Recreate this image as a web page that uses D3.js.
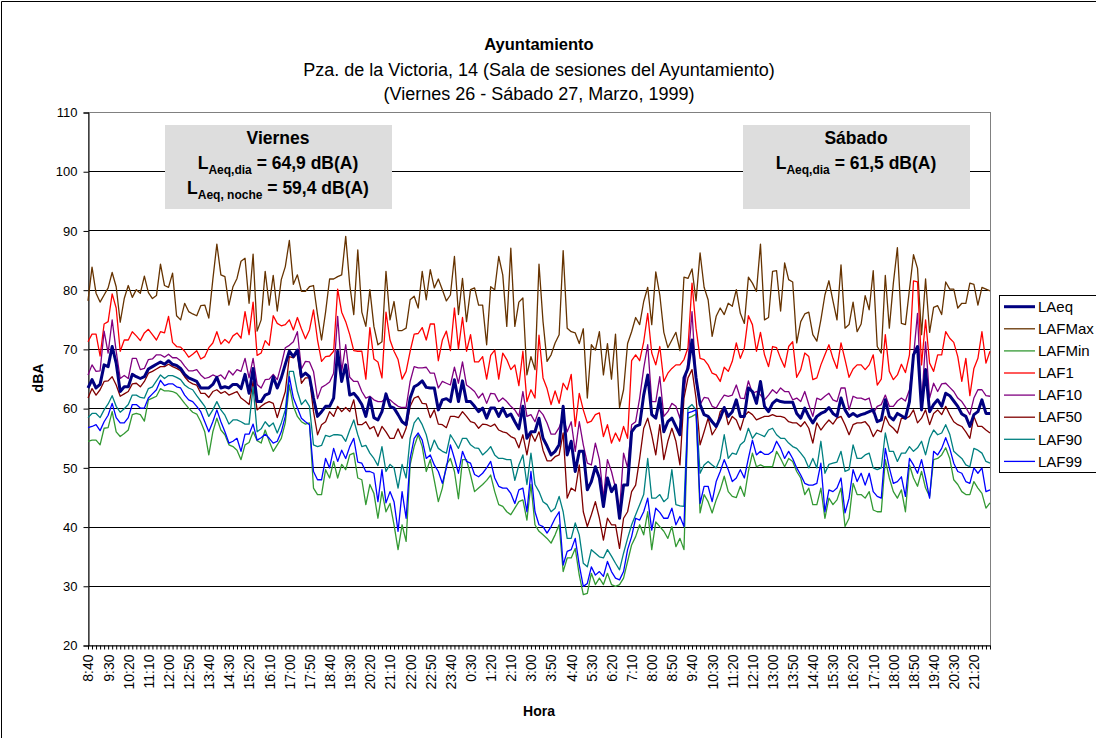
<!DOCTYPE html>
<html>
<head>
<meta charset="utf-8">
<script src="https://cdn.jsdelivr.net/npm/d3@7"></script>
<style>
  body { margin: 0; background: #fff; }
  text { font-family: Arial, "Liberation Sans", sans-serif; fill: #000; }
</style>
</head>
<body>
<div id="chart"></div>
<script>
// 10-minute samples, Friday 8:40 -> Saturday 22:00
var startHour = 8, startMin = 40, stepMin = 10;

var tickLabels = ["8:40","9:30","10:20","11:10","12:00","12:50","13:40","14:30","15:20","16:10",
  "17:00","17:50","18:40","19:30","20:20","21:10","22:00","22:50","23:40","0:30","1:20","2:10",
  "3:00","3:50","4:40","5:30","6:20","7:10","8:00","8:50","9:40","10:30","11:20","12:10","13:00",
  "13:50","14:40","15:30","16:20","17:10","18:00","18:50","19:40","20:30","21:20"];

var LAeq = [63.4,64.8,63.4,64,67.3,67,70.4,67.6,62.8,63.6,63.6,65.7,65.3,65,65.3,66.6,67,67.4,67.8,67.4,68,67.4,67.2,66.7,65.7,65.1,64.8,64.5,63.4,63.4,63.4,64,65.2,63.4,63.6,63.4,64,64,63.3,65.7,62.5,
  66.7,61.1,61.1,62.2,62.5,65.3,63.4,65.1,67.4,69.6,68.7,69.8,65.3,65.9,65.3,61.7,58.6,59.4,60.3,60.3,61.7,69.6,64.5,67.3,62.2,62.5,61.7,60.6,58.6,61.7,58.4,58,59.4,62.4,60.3,60,58.9,57.7,57.2,
  61.7,63.6,64,64.6,63.5,63.4,63.4,59.7,61.4,61.6,61.1,64.8,61.1,64.6,61.1,61.1,60.3,59.4,60,58.3,60,60,58.6,60,58.6,59,57.7,56.5,60.3,54.9,56,56,58.3,54.9,53.6,52.1,52.7,53.8,60.3,52.1,
  54.4,49.3,52.7,52.7,46.2,47.6,50.1,48.2,43.4,48.2,45.9,47,41.4,47,47,56,56.9,57.2,62.2,65.6,58.9,58.3,61.7,56,57.7,58.3,56.9,55.5,65.1,66.7,71.5,65.1,60.6,58.9,58.6,57.7,56.9,58.3,60.1,58.6,
  59.4,61.4,58.6,58.6,63.4,62.8,60.8,64.5,60.3,59.4,60.8,61.4,61.1,61,61,61,59.1,58.3,60,58.6,57.5,58.6,59.1,59.4,60.1,59.1,58.6,61.7,59.7,58.6,59.1,58.6,58.9,59.1,59.4,59.7,57.7,58,61.4,58.6,
  58,59.1,58.7,58.3,61.1,69,70.4,59.7,66.5,59.4,60.6,61.4,60.3,62.5,62.1,61.2,60.3,59,58.6,56.9,58.9,59.4,61.4,59.1,59.1];

var LAFMax = [78.1,83.8,79.4,77.9,79.1,80.3,82.9,80.5,74.5,78.5,80.7,78.7,80,79.4,82.3,79.5,78.5,79,84.3,80.7,80.4,82.8,75.6,74.9,77.7,76.3,75.9,75.6,77.3,77.4,75.2,81.7,87.7,82.5,82.2,77.4,80.5,81.9,84.8,85.3,77.7,
  86,73,74.9,83.1,77.4,82.4,76.4,81.7,83.9,88.3,80.9,82.5,79.7,79.7,80.5,80.7,75.8,71.5,76.2,81.8,81.8,82.2,82.5,89,80.8,75.8,86.7,76.2,73.8,80,73.8,70.7,71.2,83.1,74.9,78,73.1,73.1,73.5,
  78.3,78.9,76.9,83.1,78.3,83.4,80.3,81.8,80,78.1,79.1,85.6,75.8,81.9,74.6,80,80.3,77.4,77.4,70.7,80.5,80,85.6,82.5,73.8,87,73.8,77.9,78.6,65.6,68.7,66.5,84.3,74.6,67.9,69,71,72.4,86.6,73.5,
  72.9,72.7,70.9,73.4,61.7,70.7,69.8,72.9,65.6,70.9,64.9,72.5,60.1,63.1,70.9,72.9,75.3,74.1,78,80.4,74.1,83,79.1,72.8,70.2,71.5,72.8,69.7,82.1,81.9,83.5,78.1,86.2,80.4,78.3,72.1,75.5,76.9,75.8,77.7,
  77.2,80,76,74.3,82.1,81.1,79.7,87.7,74.9,75.3,83.1,83.2,76.4,84.5,81.7,81.3,71,74.6,75.9,76.2,72.4,71.3,74.9,79.1,81.5,78.1,74.9,84.2,73.5,74.1,77.9,72.9,74.2,79,76.6,83.2,70.4,69.3,82.4,73.5,
  81.1,87.1,74.3,74.1,80,85.9,83.6,72.4,81.8,72.8,77,77.3,75.8,81.3,80.1,80.1,76.9,77.7,77.7,81.1,80.9,77.4,80.4,80.1,79.8];

var LAFMin = [54.4,54.6,54.6,53.8,56.6,56.7,59.4,56,55.2,55.7,56.3,58.9,59.1,58.9,57.8,61.4,61.7,62,63.3,62.9,62.9,62.8,62.5,61.7,60.8,60,59.3,59,57.7,56,52.1,56,58.3,56.3,55.5,53.8,53.5,52.9,51.3,53.8,54.2,
  56,54.5,54.1,56.3,54.4,52.7,53.8,54.9,57.5,63.9,60.3,58.6,57.7,57.3,57.5,46.5,45.4,45.4,49.6,48.2,51,48.2,50.5,49.6,52.1,52.4,48.2,47.9,43.7,47.1,45.6,41.4,45.9,42.5,43.9,40.3,36.1,40.3,37.5,
  50.4,53.5,55.5,53.5,49.3,51.3,47.8,44.2,46.5,50.4,51.5,49.3,44.7,51.3,51.3,48.7,45.9,46.5,47.1,47.8,48.7,45.9,43.7,43.4,42.5,42,43.1,44.2,44.5,41.1,47.1,40.3,39.2,38.6,38,37.2,38.6,40.3,32.4,34.7,
  34.7,36.3,31.8,28.5,28.7,32.1,30.2,31.3,30.2,32.1,30.2,29.9,30.2,31.3,34.1,36.9,38.3,40.3,38.6,42.5,36.1,40.8,40,39.2,38,40,36.6,38,36.1,58.3,58.6,59,42.3,45.4,44.2,42.3,44.5,46.2,48.5,45.9,
  45.1,44.9,46.8,45.1,49.3,52.4,50.1,50.4,50.1,50.1,50.1,52.7,51.5,50.1,51.5,51,49.3,48.2,45.4,46.5,43.7,43.7,46.5,41.4,44.8,43.7,44.5,46.5,40,41.4,47.3,45.4,45.4,44.8,45.9,42.8,42.5,42.5,51.3,48.2,
  45.9,44.8,46.2,42.5,50.4,48.2,46.8,49.3,46.5,45.1,51.3,51.5,52.1,53.3,51.5,47.9,47.1,45.9,45.4,45.4,47.6,46.5,45.6,43.1,44];

var LAF1 = [71.2,72.5,72.5,68.8,74.2,74.6,79.3,76.9,69.6,71.5,71.5,72.9,72.2,71.4,72.7,73.3,72.4,71.5,72.9,72.7,75.5,71.1,70.4,70.3,69.6,68.6,69.1,69.7,68.3,68.7,70.2,71,72.9,70.8,71.6,71,72.2,72.7,71.8,76.3,72.4,
  77.9,68.9,69.3,71.4,70.6,75.6,74.3,73.9,74.1,74.9,73.2,75.3,73.4,71.7,73.2,76.6,71.5,67.9,68.7,68.8,69.6,80.1,76.2,74.6,72.4,69.7,69.6,69.6,64.9,73.6,68.3,67.8,65.1,76.2,71.5,69.6,68.2,64.9,66.2,
  69.6,72.5,72.6,73.6,71.5,74.2,74.2,68,71.5,73,69.7,76.9,70,75.3,69.6,72.4,67.8,67.8,68.7,64.9,68.9,69.8,64.9,69.3,68.2,66.5,67.3,63.8,69.6,61.1,63.1,61.7,72.3,65.1,63.3,60.6,62.9,60.8,64.2,63.1,
  65.7,56.9,62.5,59.7,57.5,57.8,58.9,59.2,55.2,57.2,54.1,55.8,54.4,56.9,54.9,68,69,68,71.2,76,69.3,67.3,70.4,64.5,65.9,66.7,67.3,67.3,68.2,70.2,81.1,73.5,68.4,68.2,67.3,65.9,65.6,64.5,66.9,66.2,
  67.9,71,68.4,70.2,75.6,74.1,69.6,72.8,69,67,70.4,70.2,68.4,66.9,70.4,71.2,65.2,66.5,69.3,68.7,64.8,65.1,67.3,69,70.7,68.4,66.7,71,68.2,65.2,66.6,67.3,67.3,66.5,67.3,69,63.9,64.9,72.4,66.2,
  64.8,65.6,67.4,66,69,81.5,81.3,67.3,74.9,67.6,66.2,69,69,72.9,71.8,71.1,68.7,64.5,68.4,62.1,66.7,68.4,72.9,67.6,69.6];

var LAF10 = [65.6,67.3,66.2,66.3,73,69.3,74.9,69.6,65,65.5,65,68.4,68.4,66.5,66.7,68.2,68.3,69,69,68.6,69.1,68.5,68.5,68,67.1,66.3,66.3,66.5,65.6,65,65.2,65.6,65.3,65.6,64.9,66.3,65.6,66.5,66.2,68.4,65.1,
  68.4,64,63.4,64.8,64.9,65.7,64.8,67.3,70.2,70.6,71.2,72.9,66.6,67.9,67.8,66.2,61.6,63.5,63.9,64.4,65.9,75.5,66.2,70.7,65.2,64.5,64.5,62.8,61.7,62,61.4,61.1,61.1,61.7,61.4,60.8,60.3,60.1,60.1,
  64.5,67,66.8,66.8,66.9,65.9,65.9,63.4,64.5,64.2,63.9,66.9,64.2,67.8,63.9,63.4,62.8,61.7,62.5,60.8,62.5,62.4,61.1,61.7,61.1,60.3,59.7,58.6,62.8,58.6,58.9,57.7,59.7,58.9,57.5,55.6,55.6,56.7,58.6,56,
  57.7,52.7,57.7,53.8,50.7,50.4,54.1,51.3,44.8,51.3,49.3,46.5,42.5,52.4,49.9,57.2,57.7,61.7,66.7,70.7,61.1,61.1,65.3,58.6,59.4,60.8,60.3,58.3,62.8,67.9,76.3,64.5,60.6,61.8,61.7,60.3,60,61.2,62.2,62,
  62.2,63.9,61.7,61.6,64.6,62.5,62.8,62.2,61.4,62.2,63.1,62.5,63.4,62.8,62.8,61.4,61.7,61.1,62.8,60.6,58.6,61.7,61.4,62,62.5,61.4,61.1,63.4,63.4,59.7,62,61.7,61.7,61.4,61.7,59.1,60.3,60.6,62.2,60.3,
  60.3,61.2,61.7,61.2,63.1,68.7,76,60.6,71.2,61.7,64.2,62.8,64.1,64.2,63.5,62.8,61.7,61.1,60.1,58.9,61.7,63.1,63.1,62.1,62];

var LAF50 = [61.7,63.3,62.2,63.1,64.5,64.6,65.3,63.9,62,62.4,62.8,64.1,64.2,63.6,64.5,65.9,66.2,66.6,67,67,67.4,67,66.7,66.3,65.3,64.5,64.1,63.9,62.5,62.5,61.8,62.8,63.1,62.5,62.8,62.2,62.5,62.8,61.7,61.2,60.6,
  64.5,59.7,60.3,60.8,61.1,60.8,58.4,60.6,62.8,68.7,68.5,69.3,64.2,65.1,65.1,59.4,55.5,57.2,57.7,59.4,58.6,60.3,59.4,60.1,59.4,61.4,57.2,57.2,57.7,56.5,56.9,55.2,56.9,56,54.9,54.9,56.5,54.9,56.6,
  60.3,61.7,62,60.8,60.7,58.4,59.7,57.3,57.2,56.7,58.6,58.6,58.4,59.4,58.6,57.7,57.5,56.6,57.3,57.2,56.9,57.3,56.3,56,55.8,55.2,54.9,53.3,55.5,52.1,55.8,54.4,56,52.9,51.1,51.1,51.8,52.1,55.8,44.8,
  46.5,46,50.4,42.5,40,42,44.2,41.4,37.7,41.4,40.3,40.3,36.3,41.4,42.5,45.9,47,51.5,56.6,58.3,55.5,52.1,57.2,51.3,54.4,56.6,54.4,50.4,61.7,65.1,66.5,61.7,53.8,56,58.3,55.5,56.6,59.4,60.1,57.2,
  58.6,58,56.3,58.6,59.4,58.9,58,58.3,58.6,58.6,58.9,58.6,58.6,58.4,57.7,57.5,57.5,56.9,57.7,56.6,54.1,57.5,56.3,57.2,58,57.3,58.3,58.6,57.2,55.5,57.2,57.5,57.5,57.7,56.9,55.2,56.3,56,58.6,57.2,
  56.6,55.8,58.3,58.2,58.6,59.7,57.5,58.3,59.7,57.2,59.1,59.7,58.9,60.3,58.9,57.7,57.2,56.9,56,54.9,58.6,56.9,56.9,56.3,55.8];

var LAF90 = [58.4,59.1,59.1,58.4,59.7,60.7,62.1,60.3,59.3,59.9,60.6,62.2,62.2,61.8,61.7,63.3,63.6,64.6,65.6,65,65.5,65.5,65.2,64.8,63.9,63.4,63.1,62.1,61.2,60.3,58.6,59.7,61.1,59.7,58.8,57.3,58,58,57.7,57.3,57.3,
  63.6,56,56.5,57.7,56.9,57.5,55.8,57.5,59.7,66.2,66.2,62.8,60.6,61.4,60.3,53.8,53.5,53.7,55.4,55.2,55.5,55.5,55.4,54.4,56.3,58,55.5,53.5,53.7,52.4,51.5,50.3,53.5,49.3,50.5,49.9,46.5,50.5,48.2,
  54.9,57.5,58.4,57.2,55.5,52.7,54.6,53.2,52.7,52.4,55.5,54.4,53.2,54.9,54.9,53.8,53.3,53.2,52.1,52.7,53.5,52.1,51.5,51.5,51.3,51.3,47.8,50.4,52.1,47.1,52.4,47.1,45.9,44.2,43.7,42.5,43.1,45.1,42.5,38,
  38,40.6,38.6,33.8,33.2,36.1,35.5,34.9,34.7,36.1,35,33.8,32.7,35.5,38,40.3,42,43.7,45.4,51.5,44.8,44.8,45.4,44.2,44.8,49.6,43.7,43.5,43.4,60,60.6,59.7,49,50.4,51,50.4,49.9,51.5,55.5,51.5,
  52.4,52.2,53.8,54.4,56.6,54.9,55.8,55.5,55.2,56.3,56.6,55.5,54.9,54.9,54.1,53.5,53.2,52.4,51.5,49.9,51.5,49.9,54.4,49,50.5,50.7,50.9,52.7,49.3,49.6,53.8,51.5,51.5,52.1,52.4,49.9,49.6,49.9,55.8,52.7,
  52.7,51,52.4,52.4,53.5,52.7,53.3,54.4,52.1,54.9,56.3,55.5,55.8,57.2,55.6,52.7,52.1,51.5,50.4,50.1,53.2,52.9,52.4,51,50.7];

var LAF99 = [56.7,56.9,57.2,56.2,57.7,58.8,60.8,58.4,57.5,57.5,58.4,60.6,60.6,60,60,61.7,62.4,63.1,64.7,63.8,64.1,64.1,63.6,63.4,62.2,61.4,61.1,60.3,59.4,57.7,56,57.7,59.7,57.7,56,54.1,54.4,54.9,52.7,55.6,55.6,
  57.3,54.6,55,55.6,54.9,54.1,54.4,56,58.6,65.3,61.7,60,58.3,57.7,57.2,49.3,47.9,47.9,51.5,49.9,53.2,51,52.9,51.5,53.5,54.9,50.9,50.7,49.3,49.3,49,44.2,49.6,44,45.9,44.2,39.2,45.9,41.4,
  51.5,54.9,55.8,54.6,51.5,52.1,50.4,49.3,47.3,49.9,53.8,51.5,49,52.7,51,50.7,48.8,48.4,49,49.9,51,48.2,46.8,46.5,46.5,45.6,43.9,46.2,46.5,42.5,49.3,42.5,40.3,40,38.9,40,41.4,42.5,33.5,35.8,
  36.1,38,33.5,29.9,30.4,33.2,31.8,32.4,31.6,34.1,32.4,31.3,31,32.4,36.1,38.3,41.4,41.1,42.5,44.8,39.4,43.1,42.4,41.4,41.4,43.1,40.3,41.7,40,59.2,59.4,59.7,43.9,46.8,46.8,44.2,47.6,49.3,51.3,49.6,
  47.6,48.2,49.6,48.2,51.5,54.6,52.1,52.7,52.2,52.2,52.7,54.4,53.2,51.5,52.7,51.5,49.9,48.7,47.3,47,47,47.3,50.7,42.5,46.2,45.9,46.5,48.2,42.3,44.8,49.6,47.6,49,47,49,45.9,45.1,44.8,53.2,49.9,
  47.3,47.6,48.4,45.1,51.5,50.4,49,51.3,48.2,44.8,52.7,52.1,53.2,55,53.2,50.7,49.3,49,47.6,47.3,49.9,49,49.9,45.9,46.2];

var seriesNames = ["LAeq","LAFMax","LAFMin","LAF1","LAF10","LAF50","LAF90","LAF99"];
var seriesValues = [LAeq, LAFMax, LAFMin, LAF1, LAF10, LAF50, LAF90, LAF99];
var seriesColors = ["#000080","#663300","#339933","#ff0000","#800080","#800000","#008080","#0000ff"];
var yTicks = [20,30,40,50,60,70,80,90,100,110];

// category axis: one entry per 10-minute sample
var categories = LAeq.map(function (d, i) {
  var m = startHour * 60 + startMin + i * stepMin;
  return Math.floor(m / 60) % 24 + ":" + d3.format("02")(m % 60);
});

var W = 1096, H = 738;
var plotL = 88, plotR = 990, plotT = 112, plotB = 645;

var svg = d3.select("#chart").append("svg")
  .attr("width", W).attr("height", H);

// chart area border (cut at right like the original)
svg.append("path")
  .attr("d", "M1.5," + H + "V1.5H" + W)
  .attr("fill", "none").attr("stroke", "#000");

var x = d3.scalePoint().domain(d3.range(categories.length)).range([plotL, plotR]).padding(0);
var y = d3.scaleLinear().domain([20, 110]).range([plotB, plotT]);

// gridlines
svg.append("g").selectAll("line")
  .data(yTicks.filter(function (t) { return t > 20 && t < 110; }))
  .enter().append("line")
  .attr("x1", plotL).attr("x2", plotR)
  .attr("y1", function (d) { return Math.round(y(d)) + 0.5; })
  .attr("y2", function (d) { return Math.round(y(d)) + 0.5; })
  .attr("stroke", "#000").attr("stroke-width", 1);

// plot border
svg.append("rect")
  .attr("x", plotL + 0.5).attr("y", plotT + 0.5)
  .attr("width", plotR - plotL).attr("height", plotB - plotT)
  .attr("fill", "none").attr("stroke", "#808080");

// Y axis
var yAxis = svg.append("g")
  .attr("transform", "translate(" + (plotL + 0.5) + ",0.5)")
  .call(d3.axisLeft(y).tickValues(yTicks).tickSize(5).tickPadding(6));
yAxis.select(".domain").attr("stroke", "#000");
yAxis.selectAll("text").style("font-size", "13px").attr("font-family", null);

// X axis: tick per sample, label every 5th
var xAxis = svg.append("g")
  .attr("transform", "translate(0," + (plotB + 0.5) + ")")
  .call(d3.axisBottom(x).tickSize(4).tickSizeOuter(0)
    .tickFormat(function (i) { return i % 5 === 0 ? tickLabels[i / 5] : ""; }));
xAxis.select(".domain").attr("stroke", "#000");
xAxis.selectAll("text")
  .style("font-size", "14px").attr("font-family", null)
  .attr("transform", "rotate(-90)")
  .attr("x", -9).attr("y", 0).attr("dy", "0.35em")
  .style("text-anchor", "end");

// annotation boxes
var boxes = [
  { x: 165, title: "Viernes", lines: [["Aeq,dia", " = 64,9 dB(A)"], ["Aeq, noche", " = 59,4 dB(A)"]] },
  { x: 743, title: "Sábado", lines: [["Aeq,dia", " = 61,5 dB(A)"]] }
];
boxes.forEach(function (b) {
  var cx = b.x + 113;
  svg.append("rect").attr("x", b.x).attr("y", 125).attr("width", 227).attr("height", 84)
    .attr("fill", "#dddddd");
  svg.append("text").attr("x", cx).attr("y", 144).attr("text-anchor", "middle")
    .style("font-size", "17.5px").style("font-weight", "bold").text(b.title);
  b.lines.forEach(function (l, k) {
    var t = svg.append("text").attr("x", cx).attr("y", 169 + k * 25).attr("text-anchor", "middle")
      .style("font-size", "17.5px").style("font-weight", "bold");
    t.append("tspan").text("L");
    t.append("tspan").attr("dy", 5).style("font-size", "12px").text(l[0]);
    t.append("tspan").attr("dy", -5).text(l[1]);
  });
});

// series lines (LAeq drawn last, on top)
var line = d3.line()
  .x(function (d, i) { return x(i); })
  .y(function (d) { return y(d); });
var order = [1, 2, 3, 4, 5, 6, 7, 0];
order.forEach(function (s) {
  svg.append("path")
    .datum(seriesValues[s])
    .attr("fill", "none")
    .attr("stroke", seriesColors[s])
    .attr("stroke-width", s === 0 ? 3 : 1.3)
    .attr("stroke-linejoin", "round")
    .attr("d", line);
});

// titles
svg.append("text").attr("x", 539).attr("y", 50).attr("text-anchor", "middle")
  .style("font-size", "16.5px").style("font-weight", "bold").text("Ayuntamiento");
svg.append("text").attr("x", 539).attr("y", 76).attr("text-anchor", "middle")
  .style("font-size", "18px").text("Pza. de la Victoria, 14 (Sala de sesiones del Ayuntamiento)");
svg.append("text").attr("x", 539).attr("y", 100).attr("text-anchor", "middle")
  .style("font-size", "18px").text("(Viernes 26 - Sábado 27, Marzo, 1999)");

svg.append("text").attr("transform", "translate(43,378) rotate(-90)")
  .attr("text-anchor", "middle")
  .style("font-size", "14px").style("font-weight", "bold").text("dBA");
svg.append("text").attr("x", 539).attr("y", 716).attr("text-anchor", "middle")
  .style("font-size", "14px").style("font-weight", "bold").text("Hora");

// legend
var legend = svg.append("g");
legend.append("rect").attr("x", 999.5).attr("y", 295.5).attr("width", 120).attr("height", 177)
  .attr("fill", "#fff").attr("stroke", "#000");
seriesNames.forEach(function (n, k) {
  var ly = 306.7 + k * 22.1;
  legend.append("line").attr("x1", 1004).attr("x2", 1035).attr("y1", ly).attr("y2", ly)
    .attr("stroke", seriesColors[k]).attr("stroke-width", k === 0 ? 3 : 1.3);
  legend.append("text").attr("x", 1038).attr("y", ly).attr("dy", "0.35em")
    .style("font-size", "15px").text(n);
});
</script>
</body>
</html>
